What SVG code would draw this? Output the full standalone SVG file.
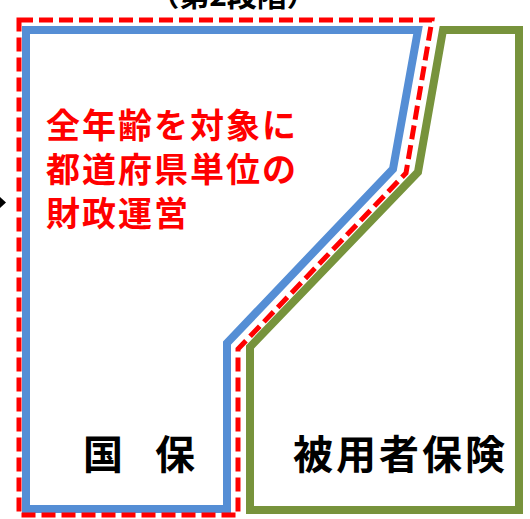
<svg xmlns="http://www.w3.org/2000/svg" width="530" height="519" viewBox="0 0 530 519">
<style>
.jp{font-family:"Noto Sans CJK JP","Noto Sans CJK SC",sans-serif;font-weight:bold}
.blk{fill:#000}
.red{fill:#FF0000}
.shape{fill:none;stroke-linejoin:miter}
</style>
<rect width="530" height="519" fill="#fff"/>
<g id="title">
<text class="jp blk" x="233" y="6" font-size="30" text-anchor="middle">（第2段階）</text>
</g>
<g id="connectors">
<polygon points="0,197 6,202.5 0,208" fill="#000"/>
</g>
<g id="kokuho">
<polygon class="shape" points="26,30 418,30 393,169 227,343 227,509 26,509" stroke="#558ED5" stroke-width="8"/>
<text class="jp blk" x="83" y="469" font-size="40" letter-spacing="-4">国　保</text>
</g>
<g id="hiyosha">
<polygon class="shape" points="443,30 519,30 519,510 250,510 250,347 418,172" stroke="#77933C" stroke-width="8"/>
<text class="jp blk" x="293" y="469" font-size="40" letter-spacing="3">被用者保険</text>
</g>
<g id="todofuken">
<polygon class="shape" points="19,20 432,20 406,173 238,349 238,515 19,515" stroke="#FF0000" stroke-width="5" stroke-dasharray="14 6"/>
<text class="jp red" font-size="34" letter-spacing="2">
<tspan x="46" y="138">全年齢を対象に</tspan>
<tspan x="46" y="182">都道府県単位の</tspan>
<tspan x="46" y="226">財政運営</tspan>
</text>
</g>
</svg>
